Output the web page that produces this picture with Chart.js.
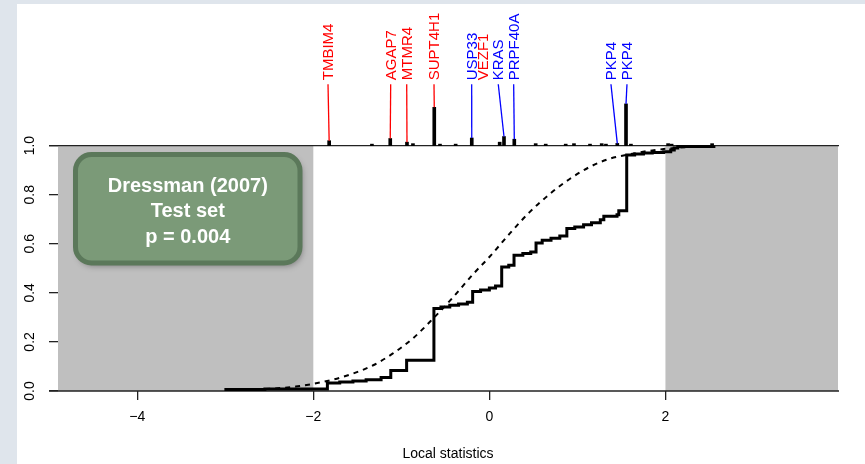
<!DOCTYPE html>
<html>
<head>
<meta charset="utf-8">
<script src="https://cdn.jsdelivr.net/npm/chart.js@4.4.1/dist/chart.umd.min.js"></script>
<style>
html, body { margin: 0; padding: 0; background: #dfe5ec; }
canvas { display: block; }
</style>
</head>
<body>
<canvas id="gsea" width="865" height="464"></canvas>
<script>
// running sum (empirical CDF) of the local statistics, step positions and level after each step
const stepX = [-3.01, -2.55, -1.84, -1.70, -1.55, -1.40, -1.23, -1.12, -0.94, -0.63, -0.55, -0.45, -0.35, -0.25,
               -0.19, -0.10, 0.00, 0.07, 0.14, 0.22, 0.28, 0.38, 0.47, 0.53, 0.60, 0.70, 0.80, 0.88, 0.97,
               1.07, 1.16, 1.26, 1.30, 1.45, 1.47, 1.56, 1.65, 1.75, 1.85, 1.98, 2.06, 2.10, 2.14, 2.55];
const stepY = [0.006, 0.008, 0.033, 0.037, 0.041, 0.046, 0.055, 0.084, 0.125, 0.336, 0.342, 0.349, 0.355, 0.362,
               0.405, 0.412, 0.420, 0.428, 0.505, 0.512, 0.553, 0.560, 0.566, 0.603, 0.614, 0.622, 0.632, 0.662, 0.668,
               0.677, 0.686, 0.698, 0.712, 0.718, 0.735, 0.962, 0.966, 0.970, 0.972, 0.975, 0.982, 0.990, 0.996, 1.000];

// background distribution (dashed curve)
const bgX = [-3.0, -2.54, -2.2, -1.99, -1.78, -1.55, -1.32, -1.10, -0.87, -0.64, -0.41, -0.18, 0.0, 0.23,
             0.46, 0.69, 0.92, 1.14, 1.37, 1.56, 1.80, 2.10, 2.50];
const bgY = [0.001, 0.008, 0.018, 0.030, 0.046, 0.071, 0.105, 0.152, 0.214, 0.295, 0.383, 0.478, 0.546, 0.641,
             0.730, 0.804, 0.866, 0.913, 0.947, 0.962, 0.978, 0.990, 0.998];

// spikes in the upper strip (height above 1.0)
const spikeX = [-1.82, -1.126, -0.936, -0.626, -0.20, 0.117, 0.166, 0.283, 1.453, 1.552,
                -1.334, -0.868, -0.561, -0.383, 0.526, 0.640, 0.867, 0.961, 1.143, 1.276, 1.324, 1.608, 2.03, 2.07, 2.53];
const spikeH = [0.020, 0.029, 0.014, 0.156, 0.031, 0.014, 0.037, 0.026, 0.009, 0.170,
                0.006, 0.008, 0.006, 0.006, 0.008, 0.006, 0.006, 0.008, 0.006, 0.008, 0.006, 0.006, 0.008, 0.006, 0.008];

// labelled genes
const geneNames  = ['TMBIM4', 'AGAP7', 'MTMR4', 'SUPT4H1', 'USP33', 'VEZF1', 'KRAS', 'PRPF40A', 'PKP4', 'PKP4'];
const geneLabelX = [-1.833, -1.121, -0.939, -0.629, -0.201, -0.069, 0.101, 0.276, 1.381, 1.563];
const geneSpikeX = [-1.82, -1.126, -0.936, -0.626, -0.20, null, 0.166, 0.283, 1.453, 1.552];
const geneSpikeH = [0.020, 0.029, 0.014, 0.156, 0.031, null, 0.037, 0.026, 0.009, 0.170];
const geneColor  = ['#ff0000', '#ff0000', '#ff0000', '#ff0000', '#0000ff', '#ff0000', '#0000ff', '#0000ff', '#0000ff', '#0000ff'];

const xTicks = [-4, -2, 0, 2];
const yTicks = [0, 0.2, 0.4, 0.6, 0.8, 1.0];
const shadeRanges = [[-4.9, -2], [2, 3.96]];
const refLines = [0, 1];
const boxLines = ['Dressman (2007)', 'Test set', 'p = 0.004'];

const labelBase = 1.25;
const FONT = "'Liberation Sans', Arial, sans-serif";

const decor = {
    id: 'decor',
    beforeDraw(chart) {
        const ctx = chart.ctx;
        ctx.save();
        ctx.fillStyle = '#dfe5ec';
        ctx.fillRect(0, 0, chart.width, chart.height);
        ctx.fillStyle = '#ffffff';
        ctx.fillRect(17, 4, chart.width - 17, chart.height - 4);
        ctx.restore();
    },
    beforeDatasetsDraw(chart) {
        const {ctx, chartArea, scales: {x, y}} = chart;
        ctx.save();
        // grey regions outside -2..2
        ctx.fillStyle = '#bfbfbf';
        shadeRanges.forEach(([a, b]) => {
            const x0 = x.getPixelForValue(a), x1 = x.getPixelForValue(b);
            const y0 = y.getPixelForValue(1), y1 = y.getPixelForValue(0);
            ctx.fillRect(x0, y0, x1 - x0, y1 - y0);
        });
        ctx.strokeStyle = '#222';
        ctx.lineWidth = 1.4;
        refLines.forEach(v => {
            const py = y.getPixelForValue(v);
            ctx.beginPath();
            ctx.moveTo(chartArea.left - 9, py);
            ctx.lineTo(chartArea.right + 1, py);
            ctx.stroke();
        });
        ctx.restore();
    },
    afterDatasetsDraw(chart) {
        const {ctx, scales: {x, y}} = chart;
        ctx.save();
        const base = y.getPixelForValue(labelBase);
        geneNames.forEach((name, i) => {
            const lx = x.getPixelForValue(geneLabelX[i]);
            ctx.strokeStyle = geneColor[i];
            ctx.fillStyle = geneColor[i];
            if (geneSpikeX[i] !== null) {
                ctx.lineWidth = 1.3;
                ctx.beginPath();
                ctx.moveTo(lx, base);
                ctx.lineTo(x.getPixelForValue(geneSpikeX[i]), y.getPixelForValue(1 + geneSpikeH[i]));
                ctx.stroke();
            }
            ctx.save();
            ctx.translate(lx, base - 4);
            ctx.rotate(-Math.PI / 2);
            ctx.font = '15px ' + FONT;
            ctx.textAlign = 'left';
            ctx.textBaseline = 'middle';
            ctx.fillText(name, 0, 1);
            ctx.restore();
        });

        // annotation box
        const bx = 75.5, by = 154.5, bw = 224.5, bh = 108.5;
        ctx.save();
        ctx.shadowColor = 'rgba(0,0,0,0.35)';
        ctx.shadowBlur = 6;
        ctx.shadowOffsetX = 2;
        ctx.shadowOffsetY = 3;
        ctx.beginPath();
        ctx.roundRect(bx, by, bw, bh, 16);
        ctx.fillStyle = '#7b9a78';
        ctx.fill();
        ctx.restore();
        ctx.beginPath();
        ctx.roundRect(bx, by, bw, bh, 16);
        ctx.lineWidth = 5;
        ctx.strokeStyle = '#5b785a';
        ctx.stroke();
        ctx.fillStyle = '#ffffff';
        ctx.font = 'bold 20px ' + FONT;
        ctx.textAlign = 'center';
        ctx.textBaseline = 'middle';
        boxLines.forEach((t, i) => ctx.fillText(t, bx + bw / 2, 186 + i * 25.5));
        ctx.restore();
    }
};

const fmtX = v => v < 0 ? '\u2212' + Math.abs(v) : String(v);

new Chart(document.getElementById('gsea'), {
    type: 'line',
    data: {
        datasets: [
            {
                label: 'running sum',
                data: stepX.map((v, i) => ({x: v, y: stepY[i]})),
                stepped: true,
                borderColor: '#000',
                borderWidth: 3,
                pointRadius: 0,
                fill: false,
                order: 1
            },
            {
                label: 'background',
                data: bgX.map((v, i) => ({x: v, y: bgY[i]})),
                borderColor: '#000',
                borderWidth: 2,
                borderDash: [5, 5],
                cubicInterpolationMode: 'monotone',
                pointRadius: 0,
                fill: false,
                order: 2
            },
            {
                type: 'bar',
                label: 'spikes',
                data: spikeX.map((v, i) => ({x: v, y: [1, 1 + spikeH[i]]})),
                backgroundColor: '#000',
                barThickness: 3,
                grouped: false,
                order: 3
            }
        ]
    },
    options: {
        responsive: false,
        animation: false,
        layout: { padding: { top: 18, right: 27, left: 0, bottom: 0 } },
        plugins: { legend: { display: false }, tooltip: { enabled: false } },
        scales: {
            x: {
                type: 'linear',
                min: -4.9,
                max: 3.96,
                offset: false,
                afterBuildTicks: s => { s.ticks = xTicks.map(v => ({value: v})); },
                afterFit: s => { s.height = 73; },
                ticks: {
                    autoSkip: false,
                    maxRotation: 0,
                    padding: 9,
                    color: '#000',
                    font: { size: 14, family: FONT },
                    callback: fmtX
                },
                grid: { drawOnChartArea: false, offset: false, tickLength: 9, color: '#222', lineWidth: 1.3 },
                border: { display: false },
                title: {
                    display: true,
                    text: 'Local statistics',
                    color: '#000',
                    font: { size: 14, family: FONT },
                    padding: { top: 0, bottom: 1 }
                }
            },
            y: {
                type: 'linear',
                min: 0,
                max: 1.52,
                afterBuildTicks: s => { s.ticks = yTicks.map(v => ({value: v})); },
                afterFit: s => { s.width = 58; },
                ticks: {
                    autoSkip: false,
                    minRotation: 90,
                    maxRotation: 90,
                    crossAlign: 'center',
                    padding: 9,
                    color: '#000',
                    font: { size: 14, family: FONT },
                    callback: v => v.toFixed(1)
                },
                grid: { drawOnChartArea: false, offset: false, tickLength: 9, color: '#222', lineWidth: 1.3 },
                border: { display: false }
            }
        }
    },
    plugins: [decor]
});
</script>
</body>
</html>
